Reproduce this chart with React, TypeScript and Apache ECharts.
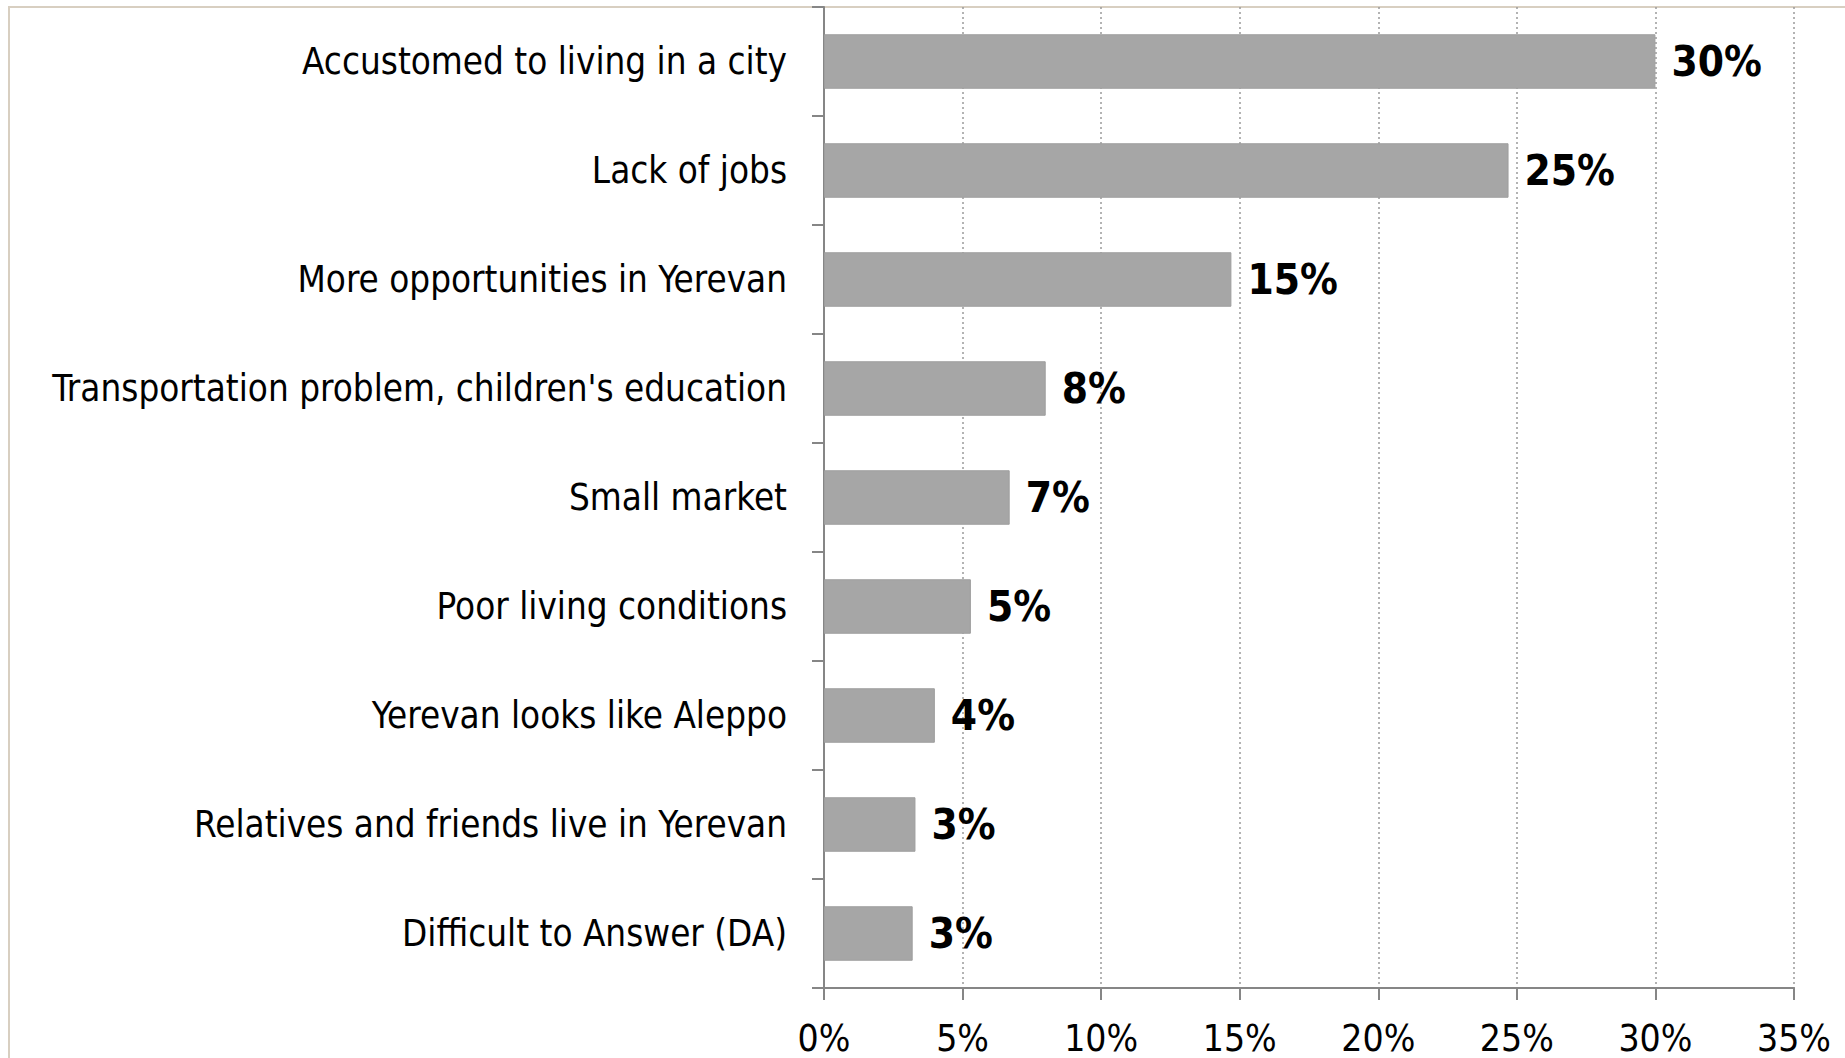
import React, { useEffect, useRef } from "react";
import * as echarts from "echarts";

const categories = [
  "Accustomed to living in a city",
  "Lack of jobs",
  "More opportunities in Yerevan",
  "Transportation problem, children's education",
  "Small market",
  "Poor living conditions",
  "Yerevan looks like Aleppo",
  "Relatives and friends live in Yerevan",
  "Difficult to Answer (DA)",
];
const values = [30.0, 24.7, 14.7, 8.0, 6.7, 5.3, 4.0, 3.3, 3.2];
const valueLabels = ["30%", "25%", "15%", "8%", "7%", "5%", "4%", "3%", "3%"];
const FONT = "DejaVu Sans Condensed";

export default function App() {
  const ref = useRef<HTMLDivElement>(null);
  useEffect(() => {
    const chart = echarts.init(ref.current!, null, { renderer: "svg" });
    const cats = [...categories].reverse();
    const vals = [...values].reverse();
    const labs = [...valueLabels].reverse();
    chart.setOption({
      animation: false,
      backgroundColor: "#ffffff",
      textStyle: { fontFamily: FONT },
      graphic: [
        {
          type: "rect",
          shape: { x: 9, y: 7, width: 1900, height: 1100 },
          style: { fill: "none", stroke: "#d8cfc1", lineWidth: 2 },
          silent: true,
        },
      ],
      grid: { left: 824, right: 51, top: 7, bottom: 70, containLabel: false },
      xAxis: {
        type: "value",
        min: 0,
        max: 35,
        interval: 5,
        axisLine: { show: true, lineStyle: { color: "#868686", width: 2 } },
        axisTick: { show: true, length: 12, lineStyle: { color: "#868686", width: 2 } },
        axisLabel: {
          formatter: (v: number) => v + "%",
          color: "#000",
          fontFamily: FONT,
          fontSize: 37,
          lineHeight: 34,
          margin: 33,
        },
        splitLine: { show: true, lineStyle: { color: "#9a9a9a", type: [2, 3], width: 1.5 } },
      },
      yAxis: {
        type: "category",
        data: cats,
        axisLine: { show: true, lineStyle: { color: "#868686", width: 2 } },
        axisTick: { show: true, length: 12, lineStyle: { color: "#868686", width: 2 } },
        axisLabel: { color: "#000", fontFamily: FONT, fontSize: 36.5, margin: 37 },
        splitLine: { show: false },
      },
      series: [
        {
          type: "bar",
          data: vals,
          barWidth: "50%",
          itemStyle: { color: "#a6a6a6", borderColor: "#9e9e9e", borderWidth: 1 },
          label: {
            show: true,
            position: "right",
            distance: 16,
            formatter: (p: any) => labs[p.dataIndex],
            color: "#000",
            fontWeight: "bold",
            fontFamily: FONT,
            fontSize: 42,
          },
        },
      ],
    });
    return () => chart.dispose();
  }, []);
  return (
    <div
      ref={ref}
      style={{ position: "absolute", left: 0, top: 0, width: 1845, height: 1058 }}
    />
  );
}
